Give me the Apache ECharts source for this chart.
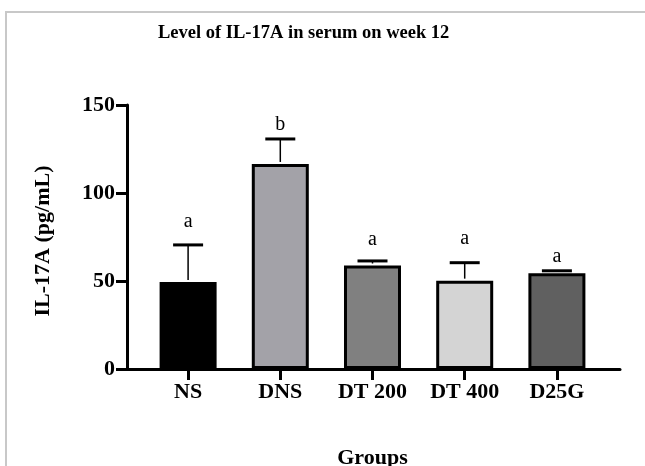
<!DOCTYPE html>
<html>
<head>
<meta charset="utf-8">
<script src="https://cdn.jsdelivr.net/npm/echarts@6/dist/echarts.min.js"></script>
<style>
  html, body { margin: 0; padding: 0; background: #fff; }
  #frame { position: absolute; left: 5px; top: 11px; width: 640px; height: 455px;
           border-left: 2px solid #c8c8c8; border-top: 2px solid #c8c8c8; }
  #main { position: absolute; left: 0; top: 0; width: 645px; height: 466px; }
</style>
</head>
<body>
<div id="frame"></div>
<div id="main"></div>
<script>
var groups = ['NS', 'DNS', 'DT 200', 'DT 400', 'D25G'];
var means = [49.5, 116.5, 58.8, 50.2, 54.4];
var errTop = [70.5, 130.7, 61.4, 60.4, 55.8];
var letters = ['a', 'b', 'a', 'a', 'a'];
var letterAt = [83.5, 138.6, 73.3, 73.9, 63.6];
var barColors = ['#000000', '#a3a2a8', '#808080', '#d4d4d4', '#606060'];
var yTicks = [0, 50, 100, 150];

var font = 'Liberation Serif';
var dom = document.getElementById('main');
var myChart = echarts.init(dom, null, { renderer: 'canvas' });

var barData = means.map(function (v, i) {
    return { value: v, itemStyle: { color: barColors[i] } };
});
var errData = means.map(function (v, i) {
    return [i, v, errTop[i], letterAt[i]];
});

option = {
    animation: false,
    title: {
        text: 'Level of IL-17A in serum on week 12',
        left: 158,
        top: 24,
        padding: 0,
        textStyle: { fontFamily: font, fontSize: 18.5, fontWeight: 'bold', color: '#000' }
    },
    grid: [
        { left: 142, right: 42, top: 105, bottom: 97, outerBoundsMode: 'none', containLabel: false },   // bars
        { left: 127, right: 25, top: 105, bottom: 97, outerBoundsMode: 'none', containLabel: false }    // axis lines
    ],
    xAxis: [
        {
            type: 'category',
            gridIndex: 0,
            data: groups,
            axisLine: { show: false },
            axisTick: { show: true, alignWithLabel: true, length: 11, lineStyle: { width: 3, color: '#000' } },
            axisLabel: { margin: 12, fontFamily: font, fontSize: 22, fontWeight: 'bold', color: '#000' },
            name: 'Groups',
            nameLocation: 'middle',
            nameGap: 78,
            nameTextStyle: { fontFamily: font, fontSize: 22, fontWeight: 'bold', color: '#000' }
        },
        {
            type: 'value',
            gridIndex: 1,
            min: 0,
            max: 1,
            axisLine: { show: true, lineStyle: { width: 3, color: '#000' } },
            axisTick: { show: false },
            axisLabel: { show: false },
            splitLine: { show: false }
        }
    ],
    yAxis: [
        {
            type: 'value',
            gridIndex: 0,
            min: 0,
            max: 150,
            interval: 50,
            show: false
        },
        {
            type: 'value',
            gridIndex: 1,
            min: yTicks[0],
            max: yTicks[yTicks.length - 1],
            interval: 50,
            axisLine: { show: true, lineStyle: { width: 3, color: '#000' } },
            axisTick: { show: true, length: 11, lineStyle: { width: 3, color: '#000' } },
            axisLabel: { margin: 12, fontFamily: font, fontSize: 22, fontWeight: 'bold', color: '#000' },
            splitLine: { show: false },
            name: 'IL-17A (pg/mL)',
            nameLocation: 'middle',
            nameGap: 73,
            nameTextStyle: { fontFamily: font, fontSize: 22, fontWeight: 'bold', color: '#000', padding: [0, 8, 0, 0] }
        }
    ],
    series: [
        {
            name: 'IL-17A',
            type: 'bar',
            xAxisIndex: 0,
            yAxisIndex: 0,
            barWidth: 57,
            data: barData,
            itemStyle: { borderColor: '#000', borderWidth: 3 }
        },
        {
            type: 'custom',
            xAxisIndex: 0,
            yAxisIndex: 0,
            data: errData,
            z: 1,
            renderItem: function (params, api) {
                var i = api.value(0);
                var base = api.coord([i, api.value(1)]);
                var top = api.coord([i, api.value(2)]);
                var lab = api.coord([i, api.value(3)]);
                var half = 15;
                return {
                    type: 'group',
                    children: [
                        {
                            type: 'line',
                            shape: { x1: base[0], y1: base[1] - 2, x2: top[0], y2: top[1] },
                            style: { stroke: '#000', lineWidth: 1.5 }
                        },
                        {
                            type: 'line',
                            shape: { x1: top[0] - half, y1: top[1], x2: top[0] + half, y2: top[1] },
                            style: { stroke: '#000', lineWidth: 3 }
                        },
                        {
                            type: 'text',
                            x: lab[0],
                            y: lab[1],
                            style: {
                                text: letters[params.dataIndex],
                                fontFamily: font,
                                fontSize: 20,
                                fill: '#000',
                                align: 'center',
                                verticalAlign: 'middle'
                            }
                        }
                    ]
                };
            }
        }
    ]
};
myChart.setOption(option);
</script>
</body>
</html>
